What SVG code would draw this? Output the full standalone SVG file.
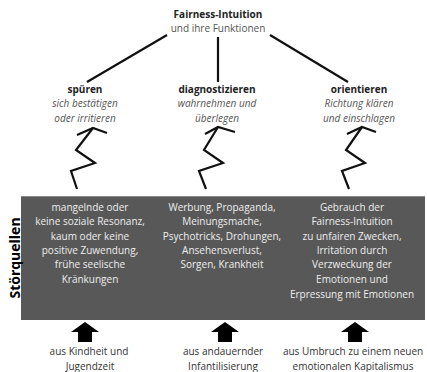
<svg xmlns="http://www.w3.org/2000/svg" width="427" height="372" viewBox="0 0 427 372">
<style>
text{font-family:"Open Sans","Liberation Sans",sans-serif;font-size:10px;text-anchor:middle}
.b{font-weight:bold;fill:#222}
.s{fill:#555}
.i{font-style:italic;fill:#555}
.w{fill:#eeeeee}
.d{fill:#333}
.ln{fill:none;stroke:#111;stroke-width:2.2;stroke-linejoin:miter}
</style>
<rect width="427" height="372" fill="#fff"/>
<g id="connectors">
<line class="ln" x1="167" y1="35" x2="87" y2="82"/>
<line class="ln" x1="218" y1="37" x2="218" y2="82"/>
<line class="ln" x1="270" y1="35" x2="348" y2="82"/>
<polyline class="ln" points="77,189 71,171 95,163 76,150 93,128"/>
<polyline class="ln" points="77,135 93,128 107,133"/>
<polyline class="ln" points="206,189 199,171 223,163 204,150 218,127"/>
<polyline class="ln" points="205,134 218,127 235,132"/>
<polyline class="ln" points="349,189 342,171 365,163 346,150 362,127"/>
<polyline class="ln" points="347,134 362,127 376,132"/>
<polygon fill="#000" points="85,322 99,332 92,332 92,342 78,342 78,332 71,332"/>
<polygon fill="#000" points="225,322 239,332 232,332 232,342 218,342 218,332 211,332"/>
<polygon fill="#000" points="355,322 369,332 362,332 362,342 348,342 348,332 341,332"/>
</g>
<g id="title">
<text class="b" x="218" y="18">Fairness-Intuition</text>
<text class="s" x="218" y="32">und ihre Funktionen</text>
</g>
<g id="spueren">
<text class="b" x="85" y="93">spüren</text>
<text class="i" x="85" y="107">sich bestätigen</text>
<text class="i" x="85" y="122">oder irritieren</text>
</g>
<g id="diagnostizieren">
<text class="b" x="217" y="93">diagnostizieren</text>
<text class="i" x="217" y="107">wahrnehmen und</text>
<text class="i" x="217" y="122">überlegen</text>
</g>
<g id="orientieren">
<text class="b" x="359" y="93">orientieren</text>
<text class="i" x="359" y="107">Richtung klären</text>
<text class="i" x="359" y="122">und einschlagen</text>
</g>
<g id="stoerquellen">
<rect x="21" y="196" width="404" height="124" fill="#585858"/>
<line x1="21" y1="196.5" x2="425" y2="196.5" stroke="#8a8a8a" stroke-width="1"/>
<text class="b" style="font-size:14px;fill:#000" transform="translate(20,258) rotate(-90)">Störquellen</text>
<text class="w" x="90" y="211">mangelnde oder</text>
<text class="w" x="90" y="225">keine soziale Resonanz,</text>
<text class="w" x="90" y="240">kaum oder keine</text>
<text class="w" x="90" y="254">positive Zuwendung,</text>
<text class="w" x="90" y="268">frühe seelische</text>
<text class="w" x="90" y="283">Kränkungen</text>
<text class="w" x="222" y="211">Werbung, Propaganda,</text>
<text class="w" x="222" y="225">Meinungsmache,</text>
<text class="w" x="222" y="240">Psychotricks, Drohungen,</text>
<text class="w" x="222" y="254">Ansehensverlust,</text>
<text class="w" x="222" y="268">Sorgen, Krankheit</text>
<text class="w" x="352" y="211">Gebrauch der</text>
<text class="w" x="352" y="225">Fairness-Intuition</text>
<text class="w" x="352" y="240">zu unfairen Zwecken,</text>
<text class="w" x="352" y="254">Irritation durch</text>
<text class="w" x="352" y="268">Verzweckung der</text>
<text class="w" x="352" y="283">Emotionen und</text>
<text class="w" x="352" y="298">Erpressung mit Emotionen</text>
</g>
<g id="src1">
<text class="d" x="89" y="355">aus Kindheit und</text>
<text class="d" x="90" y="370">Jugendzeit</text>
</g>
<g id="src2">
<text class="d" x="223" y="355">aus andauernder</text>
<text class="d" x="223" y="370">Infantilisierung</text>
</g>
<g id="src3">
<text class="d" x="353" y="355">aus Umbruch zu einem neuen</text>
<text class="d" x="353" y="370">emotionalen Kapitalismus</text>
</g>
</svg>
